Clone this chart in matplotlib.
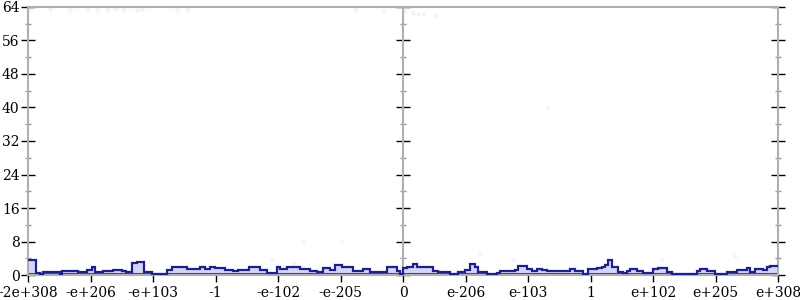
import matplotlib
matplotlib.use("Agg")
import matplotlib.pyplot as plt
import numpy as np

# Bin edges in tick units (-6 .. 6), tick i <-> label i
edges = [-6.0, -5.872, -5.808, -5.76, -5.488, -5.456, -5.2, -5.056, -4.976, -4.928,
         -4.8, -4.64, -4.496, -4.432, -4.336, -4.256, -4.144, -4.016, -3.776, -3.696,
         -3.456, -3.248, -3.168, -3.088, -3.008, -2.848, -2.72, -2.64, -2.464, -2.288,
         -2.176, -2.016, -1.968, -1.856, -1.648, -1.488, -1.376, -1.28, -1.168, -1.088,
         -0.976, -0.8, -0.64, -0.528, -0.416, -0.256, -0.096, -0.048, 0.0,
         0.064, 0.16, 0.224, 0.48, 0.56, 0.752, 0.88, 0.992, 1.072, 1.152,
         1.2, 1.344, 1.504, 1.552, 1.792, 1.84, 1.984, 2.064, 2.144, 2.224,
         2.304, 2.672, 2.752, 2.88, 2.96, 3.104, 3.184, 3.232, 3.28, 3.344,
         3.44, 3.52, 3.584, 3.632, 3.744, 3.84, 4.0, 4.08, 4.224, 4.304,
         4.704, 4.752, 4.864, 4.992, 5.184, 5.344, 5.392, 5.504, 5.552, 5.632,
         5.76, 5.824, 5.872, 6.0]
counts = [3.7, 0.5, 0.2, 0.6, 0.2, 1.0, 0.8, 1.2, 1.8, 0.8,
          1.0, 1.3, 1.0, 0.7, 2.8, 3.2, 0.8, 0.2, 1.3, 1.8,
          1.5, 1.9, 1.5, 2.0, 1.6, 1.2, 0.9, 1.2, 2.0, 1.2,
          0.5, 2.0, 1.5, 2.0, 1.4, 1.0, 0.6, 1.6, 1.2, 2.3,
          1.8, 1.0, 1.5, 0.8, 0.6, 2.0, 1.0, 0.3,
          1.6, 2.0, 2.7, 1.8, 1.0, 0.8, 0.3, 0.8, 1.2, 2.6, 1.8,
          0.8, 0.3, 0.5, 1.0, 1.3, 2.1, 1.4, 1.0, 1.5, 1.3,
          1.0, 1.5, 1.0, 0.3, 1.5, 1.7, 2.0, 2.5, 3.7, 1.8,
          0.8, 0.4, 1.0, 1.5, 0.9, 0.4, 1.4, 1.6, 0.6, 0.2,
          1.0, 1.5, 1.0, 0.3, 0.6, 1.3, 1.2, 1.6, 0.8, 1.5,
          1.2, 1.9, 2.2]

# faint individual sample points
dots_x = [-2.1, -1.765, -1.595, -0.98, 1.232, 1.76, 4.14, 5.31, 2.32,
          -5.97, -5.65, -5.33, -5.04, -4.9, -4.74, -4.61, -4.48, -4.26, -4.18, -3.62, -3.46,
          -0.77, -0.32, 0.03, 0.16, 0.24, 0.32, 0.51]
dots_y = [3.6, 2.8, 7.95, 8.2, 5.25, 3.8, 3.6, 4.5, 40.1,
          63.5, 63.5, 63.4, 63.3, 63.4, 63.3, 63.5, 63.4, 63.3, 63.5, 63.4, 63.3,
          63.2, 63.0, 63.0, 62.6, 62.3, 62.4, 62.2]

xtick_pos = list(range(-6, 7))
xtick_labels = ["-2e+308", "-e+206", "-e+103", "-1", "-e-102", "-e-205", "0",
                "e-206", "e-103", "1", "e+102", "e+205", "e+308"]
ytick_major = list(range(0, 65, 8))
ytick_minor = list(range(4, 64, 8))

plt.rcParams['font.family'] = ['DejaVu Serif']
fig = plt.figure(figsize=(8, 3), dpi=100)
ax = fig.add_axes([0.035, 0.0833, 0.9375, 0.8934])
ax.set_xlim(-6, 6)
ax.set_ylim(0, 64)

ax.stairs(counts, edges, fill=True, color="#d0d4fb", alpha=0.95, baseline=0, zorder=1)
ax.stairs(counts, edges, baseline=None, color="#20208a", lw=1.6, zorder=3)
ax.axhline(0.25, color="#3838e0", lw=2.2, zorder=2)
ax.scatter(dots_x, dots_y, s=9, color="#c8ccf5", alpha=0.25, lw=0, zorder=1)

spine_c = "#b0b0b0"
for s in ax.spines.values():
    s.set_color(spine_c)
    s.set_linewidth(1.5)

ax.set_xticks(xtick_pos)
ax.set_xticklabels(xtick_labels, fontsize=10)
ax.set_yticks(ytick_major)
ax.set_yticks(ytick_minor, minor=True)
ax.tick_params(axis='x', direction='out', length=5, width=1, color='black', pad=3)
ax.tick_params(axis='y', which='major', direction='inout', length=10, width=1,
               color='black', labelsize=10, right=True, pad=1)
ax.tick_params(axis='y', which='minor', direction='inout', length=5, width=1,
               color='#999999', right=True)

sec = ax.secondary_yaxis(0.5)
sec.set_yticks(ytick_major)
sec.set_yticks(ytick_minor, minor=True)
sec.set_yticklabels([])
for sp in sec.spines.values():
    sp.set_color(spine_c)
    sp.set_linewidth(1.5)
sec.tick_params(which='major', direction='inout', length=10, width=1, color='black',
                labelleft=False, labelright=False)
sec.tick_params(which='minor', direction='inout', length=5, width=1, color='#999999',
                labelleft=False, labelright=False)

fig.savefig("out.png", dpi=100)
